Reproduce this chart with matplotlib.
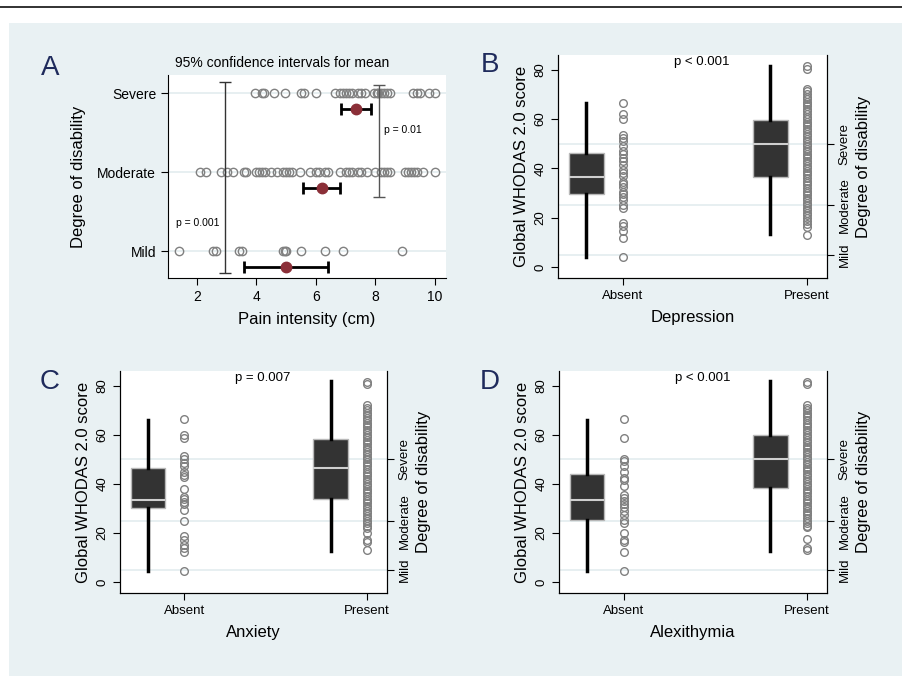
import matplotlib
matplotlib.use("Agg")
import matplotlib.pyplot as plt
from matplotlib.patches import Rectangle
from matplotlib.lines import Line2D

plt.rcParams['font.family'] = ['Liberation Sans', 'DejaVu Sans']

# ---- Panel A data: pain intensity by degree of disability ----
levels = ['Mild', 'Moderate', 'Severe']
pain_mild = [1.4, 2.55, 2.65, 3.4, 3.5, 4.9, 4.95, 5.0, 5.5, 6.3, 6.9, 8.9]
pain_moderate = [2.1, 2.3, 2.8, 3.0, 3.2, 3.6, 3.65, 4.0, 4.1, 4.2, 4.3, 4.5, 4.7,
                 4.9, 5.0, 5.1, 5.2, 5.45, 5.8, 6.0, 6.1, 6.3, 6.4, 6.8, 7.0, 7.1,
                 7.2, 7.4, 7.5, 7.7, 8.0, 8.2, 8.3, 8.4, 8.5, 9.0, 9.1, 9.2, 9.3,
                 9.4, 9.6, 10.0]
pain_severe = [3.95, 4.2, 4.25, 4.6, 4.95, 5.5, 5.6, 6.0, 6.65, 6.8, 6.9, 7.0, 7.1,
               7.2, 7.4, 7.5, 7.65, 7.95, 8.05, 8.1, 8.2, 8.3, 8.4, 8.5, 9.25, 9.4,
               9.5, 9.8, 10.0]
pain_means = [5.0, 6.2, 7.35]
pain_ci_low = [3.6, 5.58, 6.85]
pain_ci_high = [6.42, 6.82, 7.85]

# ---- Panels B-D: WHODAS scores by absent / present ----
groups = ['Absent', 'Present']
panel_letters = ['B', 'C', 'D']
panel_xlabels = ['Depression', 'Anxiety', 'Alexithymia']
panel_pvalues = ['p < 0.001', 'p = 0.007', 'p < 0.001']

# box stats: (whislo, q1, med, q3, whishi) for absent, present
box_stats = {
    'B': [(4.2, 29.6, 36.5, 46.2, 66.5), (13.3, 36.4, 50.0, 59.7, 81.6)],
    'C': [(4.5, 30.0, 33.6, 46.5, 66.2), (12.7, 33.8, 46.4, 58.2, 81.8)],
    'D': [(4.5, 25.2, 33.6, 43.9, 66.2), (12.7, 38.5, 50.0, 59.8, 81.8)],
}

absent_b = [66.5, 62.1, 60.0, 53.6, 52.2, 50.9, 49.1, 47.1, 45.8, 44.1, 42.8, 41.4,
            39.4, 38.3, 36.7, 34.6, 33.7, 32.6, 30.6, 29.6, 28.3, 27.2, 25.2, 23.8,
            17.8, 16.7, 14.4, 11.7, 4.2]
present_b = [81.5, 80.5, 72.0, 71.2, 70.0, 68.9, 68.0, 67.1, 66.0, 65.2, 64.0, 63.1,
             62.0, 61.0, 60.2, 59.0, 58.1, 57.0, 56.0, 55.1, 54.0, 53.0, 52.1, 51.0,
             50.0, 49.2, 48.0, 47.1, 46.0, 45.0, 44.1, 43.0, 42.0, 41.1, 40.0, 39.0,
             38.0, 37.1, 36.0, 35.0, 34.0, 33.1, 32.0, 31.0, 30.0, 29.0, 28.1, 27.0,
             26.0, 25.0, 24.0, 23.1, 22.0, 20.9, 19.8, 18.7, 17.5, 16.4, 13.0]
absent_c = [66.3, 59.8, 58.7, 51.4, 50.3, 48.3, 47.2, 44.9, 43.8, 42.6, 38.1, 34.7,
            33.8, 32.7, 31.7, 29.3, 25.0, 18.7, 17.1, 15.1, 13.7, 12.1, 4.5]
present_c = [81.5, 80.5, 72.0, 71.1, 70.2, 69.0, 68.1, 67.0, 66.1, 65.0, 64.0, 63.2,
             62.0, 61.1, 60.0, 59.1, 58.0, 57.0, 56.1, 55.0, 54.0, 53.1, 52.0, 51.0,
             50.1, 49.0, 48.0, 47.1, 46.0, 45.0, 44.0, 43.1, 42.0, 41.0, 40.1, 39.0,
             38.0, 37.0, 36.1, 35.0, 34.0, 33.0, 32.1, 31.0, 30.0, 29.1, 28.0, 27.0,
             26.1, 25.0, 24.0, 23.0, 22.1, 19.8, 17.0, 16.4, 13.0]
absent_d = [66.3, 58.7, 50.3, 49.4, 47.2, 44.9, 42.2, 41.5, 39.1, 35.4, 34.1, 33.0,
            31.7, 30.7, 29.1, 27.3, 25.2, 23.9, 19.8, 17.1, 16.4, 12.1, 4.5]
present_d = [81.5, 80.5, 72.0, 71.0, 70.1, 69.0, 68.0, 67.1, 66.0, 65.0, 64.1, 63.0,
             62.0, 61.0, 60.1, 59.0, 58.0, 57.1, 56.0, 55.0, 54.1, 53.0, 52.0, 51.1,
             50.0, 49.0, 48.1, 47.0, 46.0, 45.1, 44.0, 43.0, 42.1, 41.0, 40.0, 39.1,
             38.0, 37.0, 36.1, 35.0, 34.0, 33.1, 32.0, 31.0, 30.1, 29.0, 28.0, 27.1,
             26.0, 25.0, 24.1, 23.0, 22.5, 17.5, 14.0, 13.0]
scatter_data = {'B': (absent_b, present_b), 'C': (absent_c, present_c),
                'D': (absent_d, present_d)}

disability_cuts = [5, 25, 50]

bg = '#e9f1f3'
grid_col = '#e3ecef'
navy = '#1f2b5c'

W, H = 903, 676
fig = plt.figure(figsize=(W / 100, H / 100), dpi=100)
fig.patch.set_facecolor('white')
fig.patches.append(Rectangle((9 / W, 0), 1, 1 - 23 / H, transform=fig.transFigure,
                             facecolor=bg, edgecolor='none', zorder=-10))
fig.lines.append(Line2D([0, 1], [1 - 7 / H, 1 - 7 / H], transform=fig.transFigure,
                        color='#222222', lw=1.3))


def px_axes(left, top, right, bottom):
    return fig.add_axes([left / W, 1 - bottom / H, (right - left) / W, (bottom - top) / H])


# ---------------- Panel A ----------------
axA = px_axes(168, 75, 446, 278)
axA.set_facecolor('white')
for i, vals in enumerate([pain_mild, pain_moderate, pain_severe]):
    y = i + 1
    axA.axhline(y, color=grid_col, lw=1.2, zorder=0)
    axA.plot(vals, [y] * len(vals), 'o', mfc='none', mec='#808080', ms=6, mew=1, zorder=2)
ypos = [1 - 0.2, 2 - 0.2, 3 - 0.2]
xerr = [[m - lo for m, lo in zip(pain_means, pain_ci_low)],
        [hi - m for m, hi in zip(pain_means, pain_ci_high)]]
axA.errorbar(pain_means, ypos, xerr=xerr, fmt='o', color='#8b2f38', ms=7.5,
             ecolor='black', elinewidth=2, capsize=4, capthick=2, zorder=4)
# comparison brackets
axA.errorbar([2.95], [(0.72 + 3.14) / 2], yerr=[(3.14 - 0.72) / 2], fmt='none',
             ecolor='#333333', elinewidth=1, capsize=4, capthick=1, zorder=3)
axA.errorbar([8.12], [(1.68 + 3.1) / 2], yerr=[(3.1 - 1.68) / 2], fmt='none',
             ecolor='#555555', elinewidth=1, capsize=4, capthick=1, zorder=3)
axA.text(1.29, 1.36, 'p = 0.001', fontsize=7.5, ha='left', va='center')
axA.text(8.29, 2.54, 'p = 0.01', fontsize=7.5, ha='left', va='center')
axA.text(1.26, 3.38, '95% confidence intervals for mean', fontsize=10,
         ha='left', va='center', clip_on=False)
axA.set_xlim(1.03, 10.37)
axA.set_ylim(0.66, 3.23)
axA.set_xticks([2, 4, 6, 8, 10])
axA.set_yticks([1, 2, 3])
axA.set_yticklabels(levels)
axA.tick_params(labelsize=10, length=5, direction='out')
axA.spines['top'].set_visible(False)
axA.spines['right'].set_visible(False)
axA.set_xlabel('Pain intensity (cm)', fontsize=12, labelpad=6)
axA.set_ylabel('Degree of disability', fontsize=12, labelpad=8)
fig.text(50 / W, 1 - 68 / H, 'A', fontsize=20, color=navy, ha='center', va='center')

# ---------------- Panels B-D ----------------
panel_boxes = {'B': (558, 55, 827, 278), 'C': (120, 371, 387, 593), 'D': (559, 371, 827, 593)}
label_pos = {'B': (490, 65), 'C': (50, 382), 'D': (490, 382)}

for letter, xlab, ptxt in zip(panel_letters, panel_xlabels, panel_pvalues):
    ax = px_axes(*panel_boxes[letter])
    ax.set_facecolor('white')
    for c in disability_cuts:
        ax.axhline(c, color=grid_col, lw=1.2, zorder=0)

    stats = []
    for s in box_stats[letter]:
        stats.append(dict(whislo=s[0], q1=s[1], med=s[2], q3=s[3], whishi=s[4], fliers=[]))
    ax.bxp(stats, positions=[-0.2, 0.8], widths=0.19, patch_artist=True,
           showcaps=False, showfliers=False,
           boxprops=dict(facecolor='#333333', edgecolor='#b8b8b8', lw=1),
           medianprops=dict(color='#cfcfcf', lw=1.5),
           whiskerprops=dict(color='black', lw=2.5), zorder=2)

    absent, present = scatter_data[letter]
    ax.plot([0] * len(absent), absent, 'o', mfc='none', mec='#808080', ms=5.5, mew=1, zorder=3)
    ax.plot([1] * len(present), present, 'o', mfc='none', mec='#808080', ms=5.5, mew=1, zorder=3)

    ax.set_xlim(-0.353, 1.109)
    ax.set_ylim(-4.5, 86)
    ax.set_xticks([0, 1])
    ax.set_xticklabels(groups)
    ax.set_yticks([0, 20, 40, 60, 80])
    ax.tick_params(labelsize=9.5, length=5, direction='out')
    for t in ax.get_yticklabels():
        t.set_rotation(90)
        t.set_va('center')
    ax.spines['top'].set_visible(False)
    ax.set_xlabel(xlab, fontsize=12, labelpad=6)
    ax.set_ylabel('Global WHODAS 2.0 score', fontsize=12, labelpad=4)
    ax.text(0.43, 83, ptxt, fontsize=9.5, ha='center', va='center')

    ax2 = ax.twinx()
    ax2.set_ylim(ax.get_ylim())
    ax2.set_yticks(disability_cuts)
    ax2.set_yticklabels(['Mild', 'Moderate', 'Severe'], rotation=90, va='center')
    ax2.tick_params(labelsize=9.5, length=5, direction='out')
    ax2.spines['top'].set_visible(False)
    ax2.set_ylabel('Degree of disability', fontsize=12, labelpad=4)

    lx, ly = label_pos[letter]
    fig.text(lx / W, 1 - ly / H, letter, fontsize=20, color=navy, ha='center', va='center')

fig.savefig('out.png', dpi=100, facecolor=fig.get_facecolor())
